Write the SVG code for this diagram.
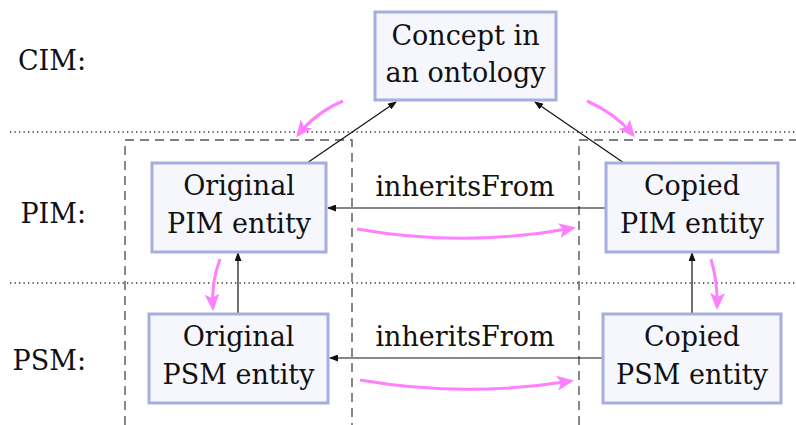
<svg xmlns="http://www.w3.org/2000/svg" width="796" height="425" viewBox="0 0 796 425">
<style>
.box{fill:#f6f7fc;stroke:#a7addf;stroke-width:3}
text{font-size:27px;fill:#111}
.c{text-anchor:middle}
.lbl{text-anchor:end}
.dot{stroke:#333;stroke-width:1.3;stroke-dasharray:1.3 3.2;fill:none}
.dash{stroke:#555;stroke-width:1.4;stroke-dasharray:9 6;fill:none}
.blk{stroke:#111;stroke-width:1.2;fill:none;marker-end:url(#ah)}
.mag{stroke:#ff80ff;stroke-width:3;fill:none;marker-end:url(#mh)}
</style>
<defs>
<marker id="ah" markerUnits="userSpaceOnUse" markerWidth="9" markerHeight="7" refX="8" refY="3.5" orient="auto"><path d="M0,0 L9,3.5 L0,7 z" fill="#111"/></marker>
<marker id="mh" markerUnits="userSpaceOnUse" markerWidth="17" markerHeight="15" refX="14" refY="7.5" orient="auto"><path d="M0,0 L17,7.5 L0,15 L4,7.5 z" fill="#ff80ff"/></marker>
</defs>
<g font-family="'DejaVu Serif', serif">
<g id="labels">
<text class="lbl" x="86" y="70">CIM:</text>
<text class="lbl" x="86" y="223">PIM:</text>
<text class="lbl" x="86" y="370">PSM:</text>
</g>
<g id="guides">
<line class="dot" x1="10" y1="132" x2="796" y2="132"/>
<line class="dot" x1="10" y1="283" x2="796" y2="283"/>
<path class="dash" d="M125,425 L125,140 L352,140 L352,425"/>
<path class="dash" d="M579,425 L579,140 L796,140"/>
</g>
<g id="connectors">
<line class="blk" x1="307" y1="163" x2="396" y2="102"/>
<line class="blk" x1="624" y1="163" x2="535" y2="102"/>
<line class="blk" x1="606" y1="208" x2="328" y2="208"/>
<line class="blk" x1="603" y1="358" x2="330" y2="358"/>
<line class="blk" x1="238" y1="314" x2="238" y2="253"/>
<line class="blk" x1="692" y1="314" x2="692" y2="253"/>
<text class="c" x="465" y="196">inheritsFrom</text>
<text class="c" x="465" y="346">inheritsFrom</text>
<path class="mag" d="M343,101 Q315,113 298,135"/>
<path class="mag" d="M587,101 Q615,113 633,135"/>
<path class="mag" d="M357,229 Q465,248 573,228"/>
<path class="mag" d="M360,380 Q465,398 571,381"/>
<path class="mag" d="M220,259 Q211,283 213,308"/>
<path class="mag" d="M711,259 Q718,283 717,307"/>
</g>
<g id="concept">
<rect class="box" x="375" y="12" width="181" height="88"/>
<text class="c" x="465.5" y="45">Concept in</text>
<text class="c" x="465.5" y="82">an ontology</text>
</g>
<g id="origPIM">
<rect class="box" x="152" y="163" width="174" height="89"/>
<text class="c" x="239" y="195">Original</text>
<text class="c" x="239" y="233">PIM entity</text>
</g>
<g id="copyPIM">
<rect class="box" x="606" y="163" width="172" height="89"/>
<text class="c" x="692" y="195">Copied</text>
<text class="c" x="692" y="233">PIM entity</text>
</g>
<g id="origPSM">
<rect class="box" x="149" y="314" width="179" height="89"/>
<text class="c" x="238.5" y="346">Original</text>
<text class="c" x="238.5" y="384">PSM entity</text>
</g>
<g id="copyPSM">
<rect class="box" x="603" y="314" width="178" height="89"/>
<text class="c" x="692" y="346">Copied</text>
<text class="c" x="692" y="384">PSM entity</text>
</g>
</g>
</svg>
